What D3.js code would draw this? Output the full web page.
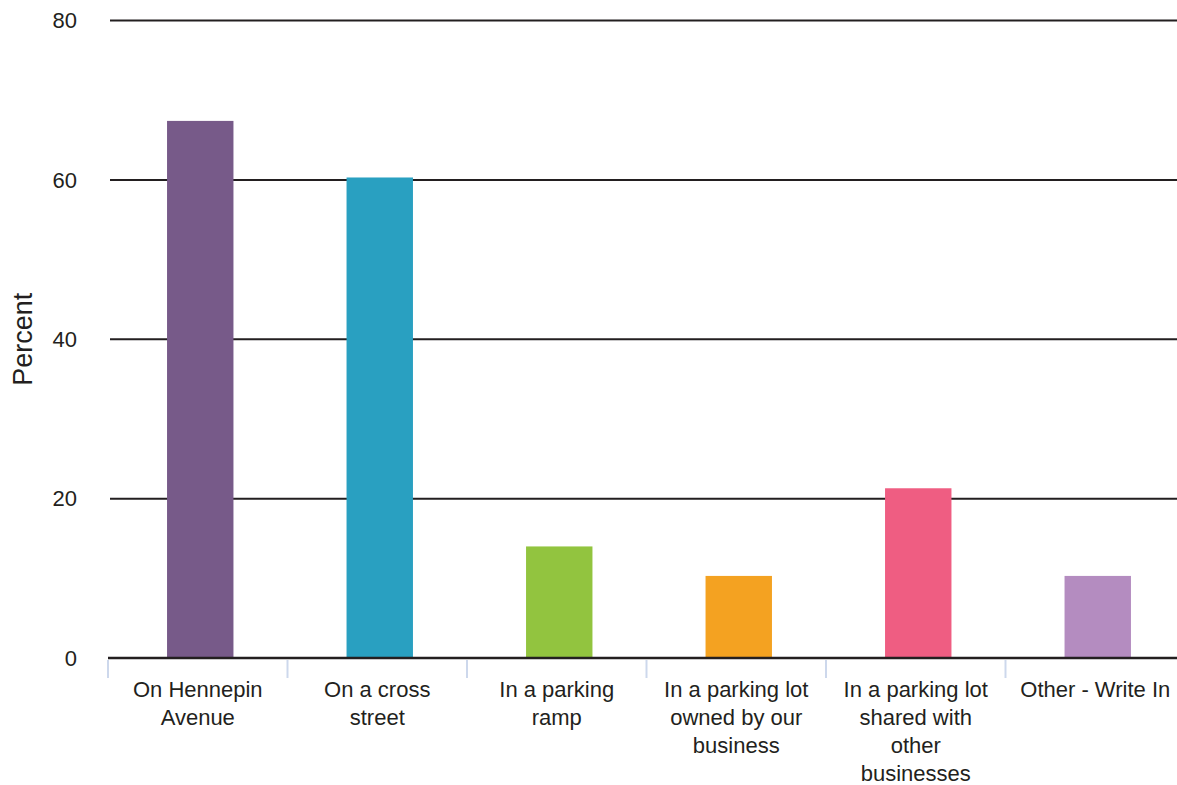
<!DOCTYPE html>
<html>
<head>
<meta charset="utf-8">
<script src="https://cdn.jsdelivr.net/npm/d3@7"></script>
<style>
  html, body { margin: 0; padding: 0; background: #ffffff; }
  svg { display: block; font-family: "Liberation Sans", Arial, sans-serif; }
</style>
</head>
<body>
<svg id="chart" width="1177" height="785"></svg>
<script>
// ---- data ----
const categories = [
  "On Hennepin Avenue",
  "On a cross street",
  "In a parking ramp",
  "In a parking lot owned by our business",
  "In a parking lot shared with other businesses",
  "Other - Write In"
];
const categoryLines = [
  ["On Hennepin", "Avenue"],
  ["On a cross", "street"],
  ["In a parking", "ramp"],
  ["In a parking lot", "owned by our", "business"],
  ["In a parking lot", "shared with", "other", "businesses"],
  ["Other - Write In"]
];
const values = [67.4, 60.3, 14.0, 10.3, 21.3, 10.3];
const colors = ["#775a89", "#29a0c1", "#92c43f", "#f4a221", "#ef5d82", "#b48cc0"];
const yTicks = [0, 20, 40, 60, 80];
const yLabel = "Percent";

// ---- layout ----
const svg = d3.select("#chart");
const plotLeft = 108, plotRight = 1185, gridRight = 1177;
const yTop = 20.5, yBottom = 658;

const x = d3.scaleBand().domain(categories).range([plotLeft, plotRight]).padding(0);
const y = d3.scaleLinear().domain([0, 80]).range([yBottom, yTop]);
const barW = x.bandwidth() * 0.37;
const barShift = 2.5;

// gridlines
svg.append("g").selectAll("line")
  .data(yTicks.filter(d => d !== 0))
  .join("line")
  .attr("x1", 110).attr("x2", gridRight)
  .attr("y1", d => y(d)).attr("y2", d => y(d))
  .attr("stroke", "#231f20").attr("stroke-width", 2);

// y tick labels
svg.append("g").selectAll("text")
  .data(yTicks)
  .join("text")
  .attr("x", 77).attr("y", d => y(d))
  .attr("dy", "0.35em")
  .attr("text-anchor", "end")
  .attr("font-size", 22)
  .attr("fill", "#231f20")
  .text(d => d);

// y axis label
svg.append("text")
  .attr("transform", `translate(32,${(yTop + yBottom) / 2}) rotate(-90)`)
  .attr("text-anchor", "middle")
  .attr("font-size", 27)
  .attr("fill", "#231f20")
  .text(yLabel);

// bars
svg.append("g").selectAll("rect")
  .data(values)
  .join("rect")
  .attr("x", (d, i) => x(categories[i]) + x.bandwidth() / 2 - barW / 2 + barShift)
  .attr("width", barW)
  .attr("y", d => y(d))
  .attr("height", d => y(0) - y(d))
  .attr("fill", (d, i) => colors[i]);

// x axis baseline
svg.append("line")
  .attr("x1", plotLeft).attr("x2", gridRight)
  .attr("y1", y(0)).attr("y2", y(0))
  .attr("stroke", "#231f20").attr("stroke-width", 2.5);

// category separator ticks
svg.append("g").selectAll("line")
  .data(categories)
  .join("line")
  .attr("x1", d => x(d)).attr("x2", d => x(d))
  .attr("y1", y(0) + 2).attr("y2", y(0) + 20)
  .attr("stroke", "#cdd8ec").attr("stroke-width", 2);

// x tick labels
const xl = svg.append("g").selectAll("text")
  .data(categories)
  .join("text")
  .attr("text-anchor", "middle")
  .attr("font-size", 22)
  .attr("fill", "#231f20")
  .attr("x", d => x(d) + x.bandwidth() / 2)
  .attr("y", 697);
xl.each(function(d, i) {
  const t = d3.select(this);
  categoryLines[i].forEach((line, k) => {
    t.append("tspan")
      .attr("x", x(d) + x.bandwidth() / 2)
      .attr("dy", k === 0 ? 0 : 28)
      .text(line);
  });
});
</script>
</body>
</html>
